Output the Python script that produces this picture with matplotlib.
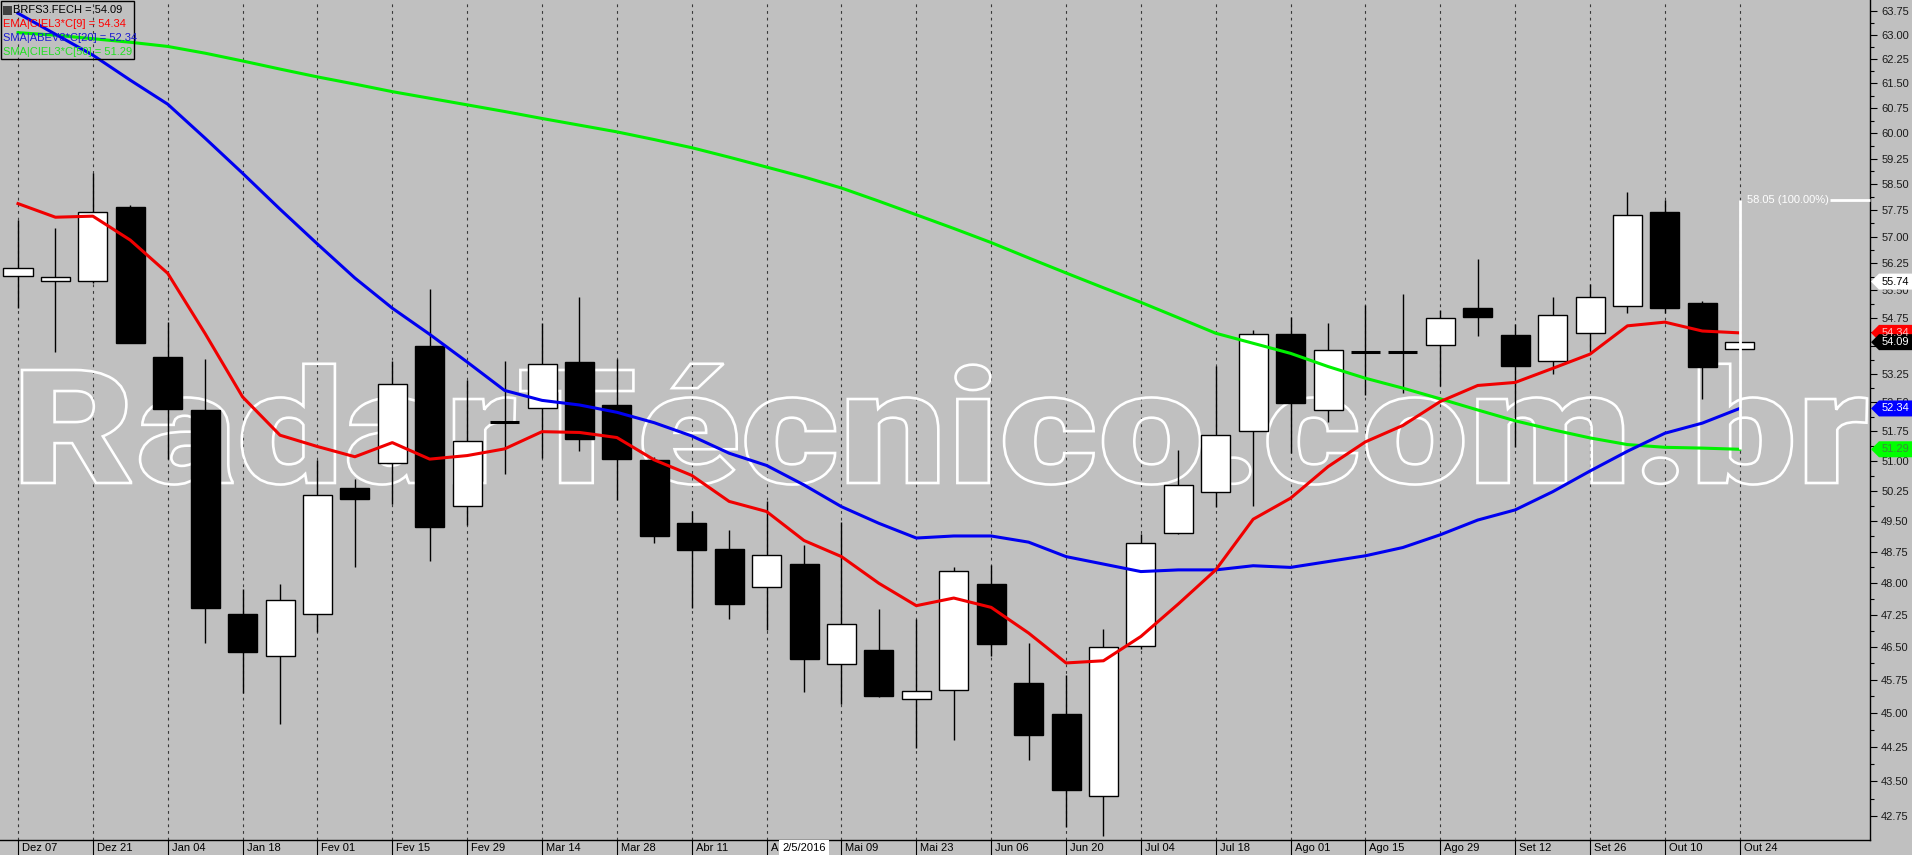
import numpy as np
import matplotlib
matplotlib.use("Agg")
import matplotlib.pyplot as plt
import matplotlib.transforms as mtransforms
from matplotlib.patches import Rectangle, Polygon, PathPatch
from matplotlib.textpath import TextPath
from matplotlib.font_manager import FontProperties, fontManager
from matplotlib.ticker import FixedLocator, FixedFormatter, NullFormatter

plt.rcParams['font.family'] = ['Liberation Sans', 'DejaVu Sans']

# ---------------- data (weekly BRFS3, Dez 07 2015 .. Out 24 2016) ----------------
opens = [55.89, 55.75, 55.75, 57.84, 53.69, 52.30, 47.27, 46.30, 47.26, 50.32,
         50.94, 53.99, 49.86, 51.98, 52.34, 53.56, 52.42, 51.02, 49.45, 48.82,
         47.90, 48.45, 46.10, 46.43, 45.31, 45.51, 47.98, 45.67, 44.98, 43.18,
         46.53, 49.20, 50.21, 51.76, 54.30, 52.29, 53.83, 53.83, 54.01, 55.01,
         54.28, 53.60, 54.33, 55.06, 57.70, 55.14, 53.90]
highs = [57.47, 57.23, 58.82, 57.90, 54.63, 53.65, 47.86, 47.97, 51.02, 50.54,
         53.60, 55.54, 53.08, 53.59, 54.61, 55.32, 53.63, 51.10, 49.75, 49.28,
         50.00, 48.91, 49.46, 47.38, 47.14, 48.37, 48.43, 46.58, 45.86, 46.92,
         49.17, 51.27, 53.45, 54.42, 54.78, 54.62, 55.10, 55.40, 54.96, 56.36,
         54.58, 55.32, 55.67, 58.27, 58.05, 55.20, 54.09]
lows = [55.01, 53.83, 55.70, 54.08, 51.04, 46.60, 45.44, 44.76, 46.85, 48.38,
        49.92, 48.53, 49.39, 50.67, 51.06, 51.24, 50.02, 48.97, 47.41, 47.14,
        46.89, 45.46, 45.20, 45.35, 44.22, 44.40, 46.30, 43.96, 42.53, 42.34,
        46.45, 49.18, 49.84, 49.87, 51.19, 52.00, 52.69, 52.75, 52.93, 54.26,
        51.36, 53.24, 53.86, 54.89, 54.88, 52.58, 53.90]
closes = [56.13, 55.86, 57.69, 54.08, 52.33, 47.41, 46.37, 47.59, 50.13, 50.03,
          52.99, 49.34, 51.49, 51.98, 53.50, 51.56, 51.05, 49.12, 48.78, 47.49,
          48.66, 46.23, 47.03, 45.37, 45.49, 48.28, 46.57, 44.50, 43.32, 46.49,
          48.95, 50.38, 51.65, 54.30, 52.47, 53.87, 53.83, 53.83, 54.73, 54.78,
          53.46, 54.82, 55.31, 57.60, 55.02, 53.44, 54.09]

ema9 = [57.94, 57.55, 57.58, 56.90, 55.97, 54.32, 52.64, 51.65, 51.36, 51.10,
        51.46, 51.04, 51.13, 51.30, 51.74, 51.72, 51.59, 51.02, 50.63, 49.98,
        49.73, 49.02, 48.63, 47.99, 47.46, 47.64, 47.42, 46.82, 46.13, 46.18,
        46.74, 47.50, 48.31, 49.54, 50.06, 50.85, 51.48, 51.90, 52.52, 52.94,
        53.02, 53.39, 53.77, 54.53, 54.63, 54.39, 54.34]
sma20 = [63.68, 63.02, 62.37, 61.60, 60.87, 59.85, 58.82, 57.78, 56.79, 55.84,
         55.01, 54.30, 53.56, 52.81, 52.55, 52.43, 52.24, 51.97, 51.63, 51.19,
         50.88, 50.39, 49.85, 49.44, 49.08, 49.13, 49.13, 48.98, 48.63, 48.45,
         48.27, 48.31, 48.31, 48.41, 48.37, 48.51, 48.65, 48.85, 49.16, 49.52,
         49.77, 50.22, 50.74, 51.24, 51.70, 51.96, 52.34]
sma50 = [63.07, 62.99, 62.88, 62.77, 62.64, 62.43, 62.19, 61.94, 61.70, 61.48,
         61.25, 61.05, 60.85, 60.65, 60.44, 60.24, 60.04, 59.81, 59.57, 59.29,
         59.00, 58.71, 58.39, 58.01, 57.62, 57.23, 56.83, 56.40, 55.98, 55.57,
         55.17, 54.75, 54.33, 54.06, 53.79, 53.44, 53.13, 52.87, 52.59, 52.30,
         52.02, 51.79, 51.58, 51.41, 51.34, 51.32, 51.29]

date_labels = ["Dez 07", "Dez 21", "Jan 04", "Jan 18", "Fev 01", "Fev 15", "Fev 29",
               "Mar 14", "Mar 28", "Abr 11", "Abr 25", "Mai 09", "Mai 23", "Jun 06",
               "Jun 20", "Jul 04", "Jul 18", "Ago 01", "Ago 15", "Ago 29", "Set 12",
               "Set 26", "Out 10", "Out 24"]
date_label_idx = list(range(0, 47, 2))
cursor_label = "2/5/2016"
cursor_idx = 21

y_ticks = [round(42.75 + 0.75 * k, 2) for k in range(29)]
y_minor = [round(43.125 + 0.75 * k, 3) for k in range(28)]

legend_lines = [("BRFS3.FECH = 54.09", "#000000"),
                ("EMA|CIEL3*C[9] = 54.34", "#ff0000"),
                ("SMA|ABEV3*C[20] = 52.34", "#1a1ad0"),
                ("SMA|CIEL3*C[50] = 51.29", "#22e022")]

flags = [(55.74, "white", "black"),
         (54.34, "#ff0000", "#ffc0c0"),
         (54.09, "black", "white"),
         (52.34, "#0000ff", "white"),
         (51.29, "#00ff00", "#3a8a3a")]

measure_top = 58.05
measure_bottom = 51.29
measure_text = "58.05 (100.00%)"

# ---------------- figure ----------------
BG = "#c0c0c0"
W, H = 1912, 855
fig = plt.figure(figsize=(W / 100, H / 100), dpi=100, facecolor=BG)
ax = fig.add_axes([0, 15 / H, 1870 / W, 840 / H])
ax.set_facecolor(BG)
ax.set_yscale("log")
ax.set_ylim(42.25, 64.10)
ax.set_xlim(-0.481, 49.48)

for s in ["top", "left"]:
    ax.spines[s].set_visible(False)
for s in ["right", "bottom"]:
    ax.spines[s].set_color("black")
    ax.spines[s].set_linewidth(1.0)

ax.yaxis.tick_right()
ax.yaxis.set_major_locator(FixedLocator(y_ticks))
ax.yaxis.set_major_formatter(FixedFormatter([f"{v:.2f}" for v in y_ticks]))
ax.yaxis.set_minor_locator(FixedLocator(y_minor))
ax.yaxis.set_minor_formatter(NullFormatter())
ax.tick_params(axis="y", which="major", direction="out", length=5, width=0.8,
               pad=3, labelsize=8, labelcolor="#1a1a1a", color="black")
ax.tick_params(axis="y", which="minor", direction="out", length=3, width=0.8, color="black")
ax.set_xticks([])

# grid
for i in date_label_idx:
    ax.axvline(i, color="#383838", lw=0.8, ls=(0, (2.5, 3.5)), zorder=1)


# watermark (heavy sans, outline only)
def heavy_font():
    for fam in ["Roboto", "Lato", "Open Sans", "Inter", "Noto Sans"]:
        cands = [f for f in fontManager.ttflist
                 if f.name == fam and f.style == "normal"
                 and isinstance(f.weight, int) and f.weight >= 800]
        if cands:
            cands.sort(key=lambda f: -f.weight)
            return FontProperties(fname=cands[0].fname)
    return FontProperties(family="Liberation Sans", weight="bold")


wm_prop = heavy_font()
wm_text = "RadarTécnico.com.br"
tp = TextPath((0, 0), wm_text, size=100, prop=wm_prop)
ext = tp.get_extents()
cap = TextPath((0, 0), "R", size=100, prop=wm_prop).get_extents().y1
x0p, x1p = 22, 1867
base_y, cap_y = H - 483, H - 370
sx = (x1p - x0p) / (ext.x1 - ext.x0)
sy = (cap_y - base_y) / cap
wm_tr = mtransforms.Affine2D().translate(-ext.x0, 0).scale(sx, sy).translate(x0p, base_y)
wm = PathPatch(tp, transform=wm_tr, facecolor="none", edgecolor="white", lw=1.9,
               zorder=1.5, clip_on=False)
ax.add_artist(wm)

# candles
w = 0.775
x = np.arange(len(closes))
ax.vlines(x, lows, highs, color="black", lw=1.0, zorder=2.8)
for i in range(len(closes)):
    o, c = opens[i], closes[i]
    if abs(c - o) < 1e-9:
        ax.hlines(o, i - w / 2, i + w / 2, color="black", lw=2.2, zorder=3)
    elif c > o:
        ax.add_patch(Rectangle((i - w / 2, o), w, c - o, facecolor="white",
                               edgecolor="black", lw=1.0, zorder=3))
    else:
        ax.add_patch(Rectangle((i - w / 2, c), w, o - c, facecolor="black",
                               edgecolor="black", lw=1.0, zorder=3))

# indicator lines
ax.plot(x, sma50, color="#00f000", lw=2.2, zorder=4, solid_joinstyle="round")
ax.plot(x, sma20, color="#0000f0", lw=2.2, zorder=4, solid_joinstyle="round")
ax.plot(x, ema9, color="#f00000", lw=2.2, zorder=4, solid_joinstyle="round")

# measurement tool
last = len(closes) - 1
ax.vlines(last, measure_bottom, measure_top, color="white", lw=2.0, zorder=5)
ax.hlines(measure_top, 48.41, 49.48, color="white", lw=2.0, zorder=5, clip_on=False)
ax.text(46.19, measure_top, measure_text, color="white", fontsize=8, va="center",
        ha="left", zorder=5)

# date labels
xform = ax.get_xaxis_transform()
for i, lbl in zip(date_label_idx, date_labels):
    ax.annotate(lbl, xy=(i, 0), xycoords=xform, xytext=(4, -8), textcoords="offset pixels",
                ha="left", va="center", fontsize=8, color="black", annotation_clip=False, zorder=6)
    ax.plot([i, i], [0, -15 / 840], transform=xform, color="black", lw=0.8, clip_on=False)
ax.annotate(cursor_label, xy=(cursor_idx, 0), xycoords=xform, xytext=(0, -8),
            textcoords="offset pixels", ha="center", va="center", fontsize=8, color="black",
            annotation_clip=False, zorder=7,
            bbox=dict(boxstyle="square,pad=0.25", fc="white", ec="none"))

# price flags on the right axis
fig.canvas.draw()
for val, fc, tc in flags:
    yd = ax.transData.transform((0, val))[1]
    pts = [(1871, yd), (1879, yd + 8), (W, yd + 8), (W, yd - 8), (1879, yd - 8)]
    fig.add_artist(Polygon(pts, closed=True, facecolor=fc, edgecolor="none",
                           transform=mtransforms.IdentityTransform(), zorder=10))
    fig.text(1882 / W, yd / H, f"{val:.2f}", color=tc, fontsize=8, va="center",
             ha="left", zorder=11)

# legend box
fig.add_artist(Rectangle((0.5, H - 59), 133, 58.5, transform=mtransforms.IdentityTransform(),
                         fill=False, edgecolor="black", lw=1.0, zorder=3))
fig.add_artist(Rectangle((3, H - 15), 9, 9, transform=mtransforms.IdentityTransform(),
                         facecolor="#404040", edgecolor="none", zorder=3))
for k, (txt, col) in enumerate(legend_lines):
    xpx = 13 if k == 0 else 3
    fig.text(xpx / W, (H - 10 - 14 * k) / H, txt, color=col, fontsize=8, va="center",
             ha="left", zorder=3)

fig.savefig("out.png", dpi=100, facecolor=BG)
